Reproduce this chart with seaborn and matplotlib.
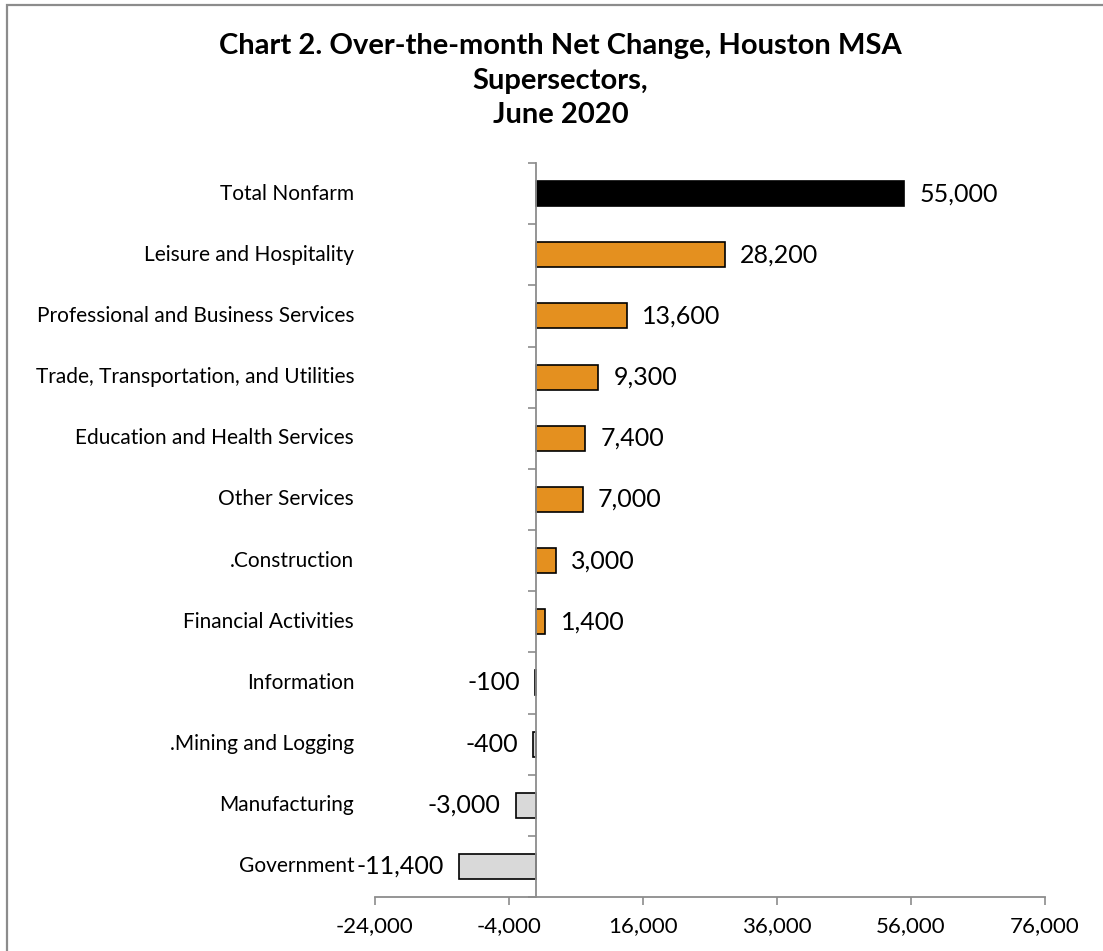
import matplotlib
matplotlib.use("Agg")
import matplotlib.pyplot as plt
import seaborn as sns
from matplotlib.patches import Rectangle
from matplotlib.ticker import FuncFormatter

# Over-the-month net change by supersector, Houston MSA, June 2020
categories = [
    "Total Nonfarm",
    "Leisure and Hospitality",
    "Professional and Business Services",
    "Trade, Transportation, and Utilities",
    "Education and Health Services",
    "Other Services",
    ".Construction",
    "Financial Activities",
    "Information",
    ".Mining and Logging",
    "Manufacturing",
    "Government",
]
net_change = [55000, 28200, 13600, 9300, 7400, 7000, 3000, 1400, -100, -400, -3000, -11400]
x_ticks = [-24000, -4000, 16000, 36000, 56000, 76000]

TOTAL_COLOR = "#000000"
GAIN_COLOR = "#E4901F"
LOSS_COLOR = "#D9D9D9"
AXIS_GRAY = "#8C8C8C"
FONT = ["Lato", "DejaVu Sans"]

sns.set_theme(style="white")
plt.rcParams["font.family"] = FONT
plt.rcParams["text.color"] = "black"
plt.rcParams["xtick.labelcolor"] = "black"

colors = [TOTAL_COLOR if i == 0 else (GAIN_COLOR if v >= 0 else LOSS_COLOR)
          for i, v in enumerate(net_change)]

fig = plt.figure(figsize=(11.03, 9.51), dpi=100)
ax = fig.add_axes([375 / 1103, 54 / 951, 670 / 1103, 734 / 951])

sns.barplot(x=net_change, y=categories, hue=categories, palette=colors,
            orient="h", width=0.41, saturation=1, edgecolor="black",
            linewidth=1.2, legend=False, ax=ax)

ax.set_xlim(x_ticks[0], x_ticks[-1])
ax.set_ylim(len(categories) - 0.5, -0.5)
ax.set_xticks(x_ticks)
ax.xaxis.set_major_formatter(FuncFormatter(lambda v, _: f"{v:,.0f}"))
ax.tick_params(axis="x", length=6, width=1.2, color=AXIS_GRAY,
               labelsize=16, pad=8, bottom=True, labelcolor="black")

# Category boundaries get tick marks on the zero line; labels are set apart on the left
ax.set_yticks([i - 0.5 for i in range(len(categories) + 1)])
ax.set_yticklabels([])
ax.tick_params(axis="y", length=6, width=1.2, color=AXIS_GRAY, left=True)
ax.spines["left"].set_position(("data", 0))
for side in ("left", "bottom"):
    ax.spines[side].set_color(AXIS_GRAY)
    ax.spines[side].set_linewidth(1.3)
for side in ("top", "right"):
    ax.spines[side].set_visible(False)
ax.set_xlabel("")
ax.set_ylabel("")

for i, name in enumerate(categories):
    ax.text(-0.031, i, name, transform=ax.get_yaxis_transform(),
            ha="right", va="center", fontsize=15, color="black")

for container in ax.containers:
    ax.bar_label(container, fmt="{:,.0f}", padding=11, fontsize=18, color="black")

title_lines = ["Chart 2. Over-the-month Net Change, Houston MSA", "Supersectors,", "June 2020"]
for y, line in zip([0.952, 0.915, 0.879], title_lines):
    fig.text(0.508, y, line, ha="center", va="center", fontsize=21,
             fontweight="bold", color="black")

# Chart frame
fig.patches.append(Rectangle((7 / 1103, -0.1), 2, 946 / 951 + 0.1,
                             transform=fig.transFigure, fill=False,
                             edgecolor="#8C8C8C", linewidth=1.6))

fig.savefig("out.png", dpi=100)
